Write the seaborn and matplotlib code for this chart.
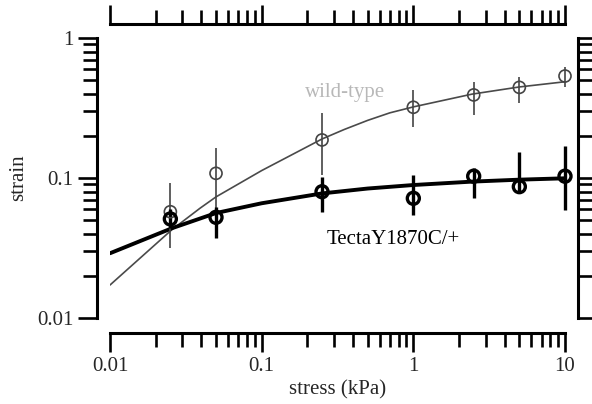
import numpy as np
import pandas as pd
import matplotlib
matplotlib.use("Agg")
import matplotlib.pyplot as plt
from matplotlib.ticker import FixedLocator, FixedFormatter, NullFormatter, LogLocator
import seaborn as sns

# ---- data ----
stress = [0.025, 0.05, 0.25, 1, 2.5, 5, 10]

wt_strain = [0.0574, 0.108, 0.187, 0.32, 0.392, 0.444, 0.535]
wt_upper = [0.092, 0.164, 0.29, 0.425, 0.487, 0.529, 0.617]
wt_lower = [0.0316, 0.058, 0.105, 0.233, 0.282, 0.341, 0.444]

mut_strain = [0.051, 0.0524, 0.0798, 0.0716, 0.103, 0.0867, 0.103]
mut_upper = [0.060, 0.062, 0.102, 0.105, 0.117, 0.154, 0.169]
mut_lower = [0.044, 0.037, 0.0575, 0.0544, 0.0716, 0.078, 0.059]

# fitted curves, points
wt_fit_x = [0.01, 0.0255, 0.0392, 0.05, 0.1, 0.25, 0.35, 0.5, 0.7, 1, 2.43, 5, 10]
wt_fit = [0.0172, 0.0426, 0.0608, 0.0733, 0.113, 0.19, 0.222, 0.258, 0.292, 0.322, 0.397, 0.447, 0.487]
mut_fit_x = [0.01, 0.0255, 0.05, 0.1, 0.25, 0.5, 1, 2.43, 5, 10]
mut_fit = [0.029, 0.0437, 0.0562, 0.066, 0.0776, 0.0841, 0.0891, 0.0942, 0.0973, 0.0995]

x_ticks = [0.01, 0.1, 1, 10]
x_ticklabels = ["0.01", "0.1", "1", "10"]
y_ticks = [0.01, 0.1, 1]
y_ticklabels = ["0.01", "0.1", "1"]

sns.set_theme(style="ticks")
plt.rcParams["font.family"] = ["Liberation Serif", "DejaVu Serif"]

fig = plt.figure(figsize=(5.92, 4.04), dpi=100)
ax = fig.add_axes([110 / 592, 86 / 404, 455 / 592, 280 / 404])

wt_df = pd.DataFrame({"x": wt_fit_x, "y": wt_fit})
mut_df = pd.DataFrame({"x": mut_fit_x, "y": mut_fit})
sns.lineplot(data=wt_df, x="x", y="y", ax=ax, color="#4a4a4a", linewidth=1.2, sort=True)
sns.lineplot(data=mut_df, x="x", y="y", ax=ax, color="black", linewidth=2.8, sort=True)

wt_arr = np.array(wt_strain)
mut_arr = np.array(mut_strain)
eb1 = ax.errorbar(stress, wt_arr,
                  yerr=[wt_arr - np.array(wt_lower), np.array(wt_upper) - wt_arr],
                  fmt="none", ecolor="#444444", elinewidth=1.2, capsize=0)
eb2 = ax.errorbar(stress, mut_arr,
                  yerr=[mut_arr - np.array(mut_lower), np.array(mut_upper) - mut_arr],
                  fmt="none", ecolor="black", elinewidth=2.4, capsize=0)
for eb in (eb1, eb2):
    for coll in eb.lines[2]:
        coll.set_clip_on(False)

pts = pd.DataFrame({"x": stress, "wt": wt_strain, "mut": mut_strain})
sns.scatterplot(data=pts, x="x", y="wt", ax=ax, marker="o", s=75,
                facecolor="none", edgecolor="#444444", linewidth=1.2, zorder=5,
                clip_on=False)
sns.scatterplot(data=pts, x="x", y="mut", ax=ax, marker="o", s=75,
                facecolor="none", edgecolor="black", linewidth=2.4, zorder=6,
                clip_on=False)

ax.set_xscale("log")
ax.set_yscale("log")
ax.set_xlim(0.01, 10)
ax.set_ylim(0.01, 1)

ax.xaxis.set_major_locator(FixedLocator(x_ticks))
ax.xaxis.set_major_formatter(FixedFormatter(x_ticklabels))
ax.yaxis.set_major_locator(FixedLocator(y_ticks))
ax.yaxis.set_major_formatter(FixedFormatter(y_ticklabels))
ax.xaxis.set_minor_locator(LogLocator(base=10, subs=np.arange(2, 10)))
ax.yaxis.set_minor_locator(LogLocator(base=10, subs=np.arange(2, 10)))
ax.xaxis.set_minor_formatter(NullFormatter())
ax.yaxis.set_minor_formatter(NullFormatter())

for side, off in [("left", 9.4), ("bottom", 10.8), ("top", 10.0), ("right", 9.4)]:
    ax.spines[side].set_visible(True)
    ax.spines[side].set_position(("outward", off))
    ax.spines[side].set_linewidth(2.2)
    ax.spines[side].set_color("black")

ax.tick_params(which="both", direction="out", top=True, right=True,
               labeltop=False, labelright=False, color="black", width=1.9)
ax.tick_params(which="major", length=14, labelsize=15, pad=3)
ax.tick_params(which="minor", length=10)

ax.set_xlabel("stress (kPa)", fontsize=15, labelpad=3)
ax.set_ylabel("strain", fontsize=15, labelpad=6)

ax.text(0.354, 0.411, "wild-type", fontsize=15, color="#b8b8b8",
        ha="center", va="center")
ax.text(0.734, 0.0361, "TectaY1870C/+", fontsize=15, color="black",
        ha="center", va="center")

ax.set_facecolor("white")
fig.patch.set_facecolor("white")
fig.savefig("out.png", dpi=100, facecolor="white")
